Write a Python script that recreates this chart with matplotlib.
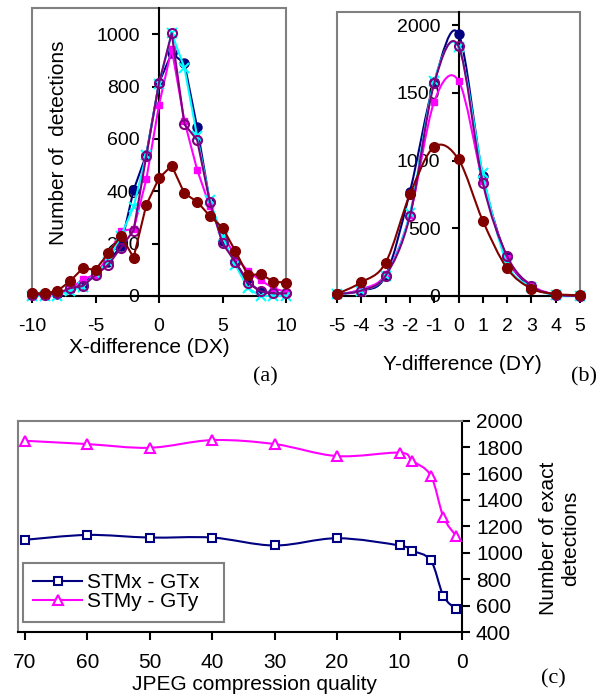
import numpy as np
import matplotlib
matplotlib.use("Agg")
import matplotlib.pyplot as plt
from matplotlib.path import Path
from matplotlib.patches import PathPatch, Rectangle
from matplotlib.lines import Line2D

plt.rcParams['font.family'] = ['Liberation Sans', 'DejaVu Sans']

# (a) X-difference
dx = [-10, -9, -8, -7, -6, -5, -4, -3, -2, -1, 0, 1, 2, 3, 4, 5, 6, 7, 8, 9, 10]
dx_navy = [10, 8, 8, 25, 45, 90, 130, 190, 405, 540, 815, 927, 889, 645, 360, 210, 130, 55, 15, 10, 10]
dx_magenta = [5, 5, 10, 25, 65, 80, 150, 250, 255, 445, 730, 945, 668, 483, 342, 240, 150, 95, 60, 30, 15]
dx_cyan = [0, 0, 0, 20, 35, 85, 130, 230, 340, 540, 810, 1003, 872, 610, 365, 225, 120, 30, 0, 0, 0]
dx_purple = [5, 5, 10, 30, 38, 80, 118, 185, 250, 535, 813, 1004, 656, 596, 360, 201, 131, 50, 18, 10, 10]
dx_maroon = [10, 10, 19, 57, 106, 100, 163, 230, 147, 348, 450, 498, 392, 360, 306, 261, 173, 79, 84, 55, 51]

# (b) Y-difference
dy = [-5, -4, -3, -2, -1, 0, 1, 2, 3, 4, 5]
dy_navy = [15, 40, 150, 770, 1580, 1935, 890, 285, 70, 10, 0]
dy_magenta = [10, 50, 160, 600, 1435, 1590, 850, 280, 80, 10, 0]
dy_cyan = [15, 40, 150, 610, 1585, 1840, 905, 240, 70, 5, 0]
dy_purple = [15, 40, 150, 590, 1570, 1845, 836, 295, 75, 10, 0]
dy_maroon = [15, 101, 246, 750, 1102, 1009, 556, 204, 55, 15, 5]

# (c) JPEG quality
quality = [70, 60, 50, 40, 30, 20, 10, 8, 5, 3, 1]
stmx_gtx = [1098, 1135, 1115, 1115, 1055, 1110, 1055, 1015, 942, 675, 574]
stmy_gty = [1848, 1823, 1795, 1853, 1823, 1732, 1758, 1697, 1584, 1274, 1130]
legend_labels = ["STMx - GTx", "STMy - GTy"]

GRAY = "#808080"
styles = {
    "navy": dict(color="#000080", marker="o", ms=6.5, mfc="#000080", mew=1),
    "magenta": dict(color="#FF00FF", marker="s", ms=4.5, mfc="#FF00FF", mew=1),
    "cyan": dict(color="#00FFFF", marker="x", ms=7, mew=1.5),
    "purple": dict(color="#800080", marker="o", ms=6.5, mfc="none", mew=1.5),
    "maroon": dict(color="#800000", marker="o", ms=7, mfc="#800000", mew=1),
}


def smooth_path(x, y):
    # bezier through the points, like the smoothed lines of a spreadsheet chart
    x = np.asarray(x, float)
    y = np.asarray(y, float)
    px = np.concatenate([[x[0]], x, [x[-1]]])
    py = np.concatenate([[y[0]], y, [y[-1]]])
    verts = [(x[0], y[0])]
    codes = [Path.MOVETO]
    for j in range(1, len(x)):
        c1 = (px[j] + (px[j + 1] - px[j - 1]) / 6, py[j] + (py[j + 1] - py[j - 1]) / 6)
        c2 = (px[j + 1] - (px[j + 2] - px[j]) / 6, py[j + 1] - (py[j + 2] - py[j]) / 6)
        verts += [c1, c2, (px[j + 1], py[j + 1])]
        codes += [Path.CURVE4] * 3
    return Path(verts, codes)


def center_axes(ax, xlim, ylim, xticks, yticks, ypad):
    ax.set_xlim(*xlim)
    ax.set_ylim(*ylim)
    for s in ["top", "right"]:
        ax.spines[s].set_visible(False)
    ax.spines["left"].set_position(("data", 0))
    ax.spines["left"].set_linewidth(1.5)
    ax.spines["bottom"].set_linewidth(1.5)
    ax.spines["left"].set_zorder(2.6)
    ax.add_patch(Rectangle((0, 0), 1, 1, transform=ax.transAxes, fill=False,
                           ec=GRAY, lw=1.5, zorder=0.5, clip_on=False))
    ax.set_xticks(xticks)
    ax.set_xticklabels([str(t) for t in xticks])
    ax.set_yticks(yticks)
    ax.tick_params(axis="x", direction="out", length=5, width=1.5, pad=11, labelsize=14)
    ax.tick_params(axis="y", direction="out", length=5, width=1.5, pad=ypad, labelsize=14)


fig = plt.figure(figsize=(6.08, 6.95), dpi=100)

# ---- (a)
ax1 = fig.add_axes([32 / 608, 1 - 296 / 695, 254 / 608, 288 / 695])
center_axes(ax1, (-10, 10), (0, 1100), [-10, -5, 0, 5, 10], range(0, 1001, 200), 9)
for name, ys in [("navy", dx_navy), ("magenta", dx_magenta), ("cyan", dx_cyan),
                 ("purple", dx_purple), ("maroon", dx_maroon)]:
    ax1.plot(dx, ys, lw=1.5, clip_on=False, zorder=3, **styles[name])
fig.text(59 / 608, 1 - 143 / 695, "Number of  detections", rotation=90,
         ha="center", va="center", fontsize=15)
fig.text(149 / 608, 1 - 347 / 695, "X-difference (DX)", ha="center", va="center", fontsize=15)
fig.text(265 / 608, 1 - 377 / 695, "(a)", ha="center", va="center", fontsize=16,
         family="Liberation Serif")

# ---- (b)
ax2 = fig.add_axes([337 / 608, 1 - 296 / 695, 243 / 608, 284.3 / 695])
center_axes(ax2, (-5, 5), (0, 2100), dy, range(0, 2001, 500), 8)
for name, ys in [("navy", dy_navy), ("magenta", dy_magenta), ("cyan", dy_cyan),
                 ("purple", dy_purple), ("maroon", dy_maroon)]:
    st = styles[name]
    ax2.add_patch(PathPatch(smooth_path(dy, ys), fill=False, ec=st["color"], lw=1.5,
                            zorder=3, clip_on=False))
    ax2.plot(dy, ys, ls="none", clip_on=False, zorder=3, **st)
fig.text(462 / 608, 1 - 365 / 695, "Y-difference (DY)", ha="center", va="center", fontsize=15)
fig.text(584 / 608, 1 - 377 / 695, "(b)", ha="center", va="center", fontsize=16,
         family="Liberation Serif")

# ---- (c)
ax3 = fig.add_axes([18 / 608, 1 - 632 / 695, 444 / 608, 211.3 / 695])
ax3.set_xlim(71.1, 0)
ax3.set_ylim(400, 2000)
ax3.set_xticks(range(0, 71, 10))
ax3.set_yticks(range(400, 2001, 200))
ax3.yaxis.tick_right()
ax3.spines["left"].set_color(GRAY)
ax3.spines["top"].set_color(GRAY)
for s in ax3.spines.values():
    s.set_linewidth(1.5)
ax3.tick_params(axis="x", direction="out", length=6, width=1.5, pad=9, labelsize=15)
ax3.tick_params(axis="y", direction="out", length=6, width=1.5, pad=4, labelsize=15)

c_styles = [dict(color="#000080", marker="s", ms=5.5, mfc="white", mew=1.5),
            dict(color="#FF00FF", marker="^", ms=6.5, mfc="white", mew=1.5)]
handles = []
for ys, st in zip([stmx_gtx, stmy_gty], c_styles):
    ax3.add_patch(PathPatch(smooth_path(quality, ys), fill=False, ec=st["color"], lw=1.5,
                            zorder=3))
    ax3.plot(quality, ys, ls="none", clip_on=False, zorder=4, **st)
    handles.append(Line2D([], [], lw=1.5, **st))

leg = ax3.legend(handles, legend_labels, loc="upper left",
                 bbox_to_anchor=(0.0106, 0.052, 0.4527, 0.2746), mode="expand",
                 borderaxespad=0, fontsize=15, handlelength=2.35, handletextpad=0.25,
                 borderpad=0.5, labelspacing=0.0, fancybox=False, framealpha=1)
leg.get_frame().set_edgecolor(GRAY)
leg.get_frame().set_linewidth(1.5)

fig.text(560 / 608, 1 - 538 / 695, "Number of exact\ndetections", rotation=90,
         ha="center", va="center", fontsize=15, multialignment="center")
fig.text(254 / 608, 1 - 684 / 695, "JPEG compression quality", ha="center", va="center",
         fontsize=15)
fig.text(553 / 608, 1 - 679 / 695, "(c)", ha="center", va="center", fontsize=16,
         family="Liberation Serif")

fig.savefig("out.png", dpi=100)
